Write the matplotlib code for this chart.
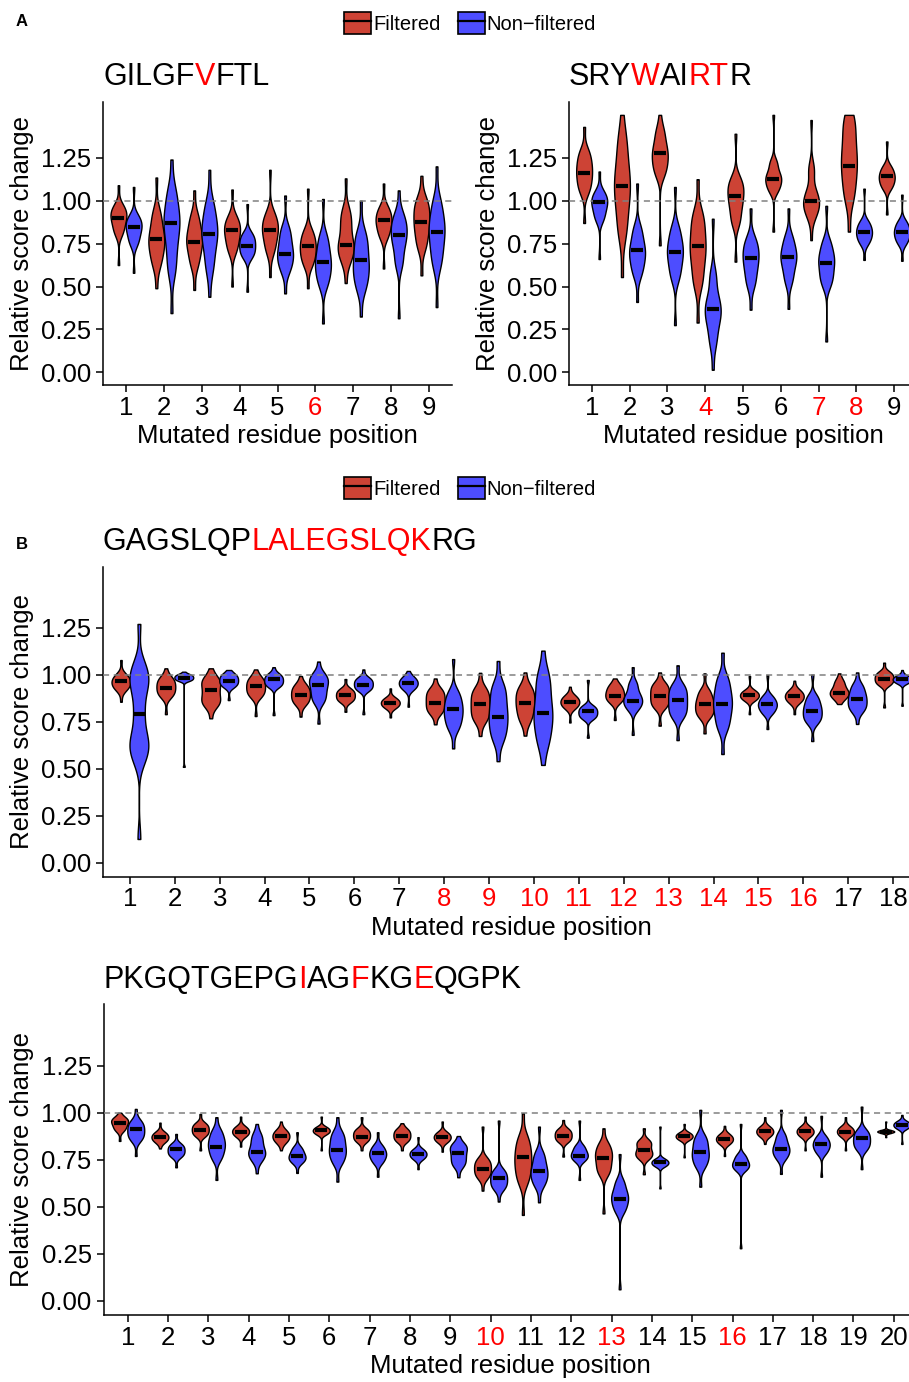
import numpy as np
import matplotlib
matplotlib.use("Agg")
import matplotlib.pyplot as plt
from matplotlib.patches import Patch
from matplotlib.lines import Line2D

plt.rcParams['font.family'] = ['Liberation Sans', 'DejaVu Sans']

W, H = 909, 1382
RED = '#CD4335'
BLUE = '#4D4DFF'
HL = '#FF0000'

# each violin: [min, body points..., max]; medians drawn as black bars
# ---- panel A left: GILGFVFTL
a1_peptide = "GILGFVFTL"
a1_hl = [6]
a1_filt = [
    [0.625, 0.82, 0.88, 0.92, 0.96, 1.09],
    [0.49, 0.64, 0.72, 0.77, 0.83, 0.92, 1.135],
    [0.48, 0.64, 0.72, 0.77, 0.82, 0.90, 1.06],
    [0.50, 0.72, 0.79, 0.84, 0.89, 1.065],
    [0.555, 0.72, 0.80, 0.85, 0.91, 1.18],
    [0.49, 0.64, 0.70, 0.75, 0.81, 1.07],
    [0.52, 0.66, 0.72, 0.76, 0.85, 0.93, 1.13],
    [0.605, 0.80, 0.86, 0.90, 0.95, 1.10],
    [0.565, 0.74, 0.82, 0.88, 0.94, 1.0, 1.145],
]
a1_filt_med = [0.90, 0.775, 0.76, 0.83, 0.83, 0.735, 0.74, 0.89, 0.875]
a1_non = [
    [0.58, 0.76, 0.82, 0.86, 0.90, 1.08],
    [0.345, 0.60, 0.72, 0.82, 0.88, 0.95, 1.05, 1.24],
    [0.44, 0.62, 0.74, 0.81, 0.87, 0.97, 1.18],
    [0.47, 0.68, 0.72, 0.76, 0.80, 0.98],
    [0.46, 0.60, 0.66, 0.70, 0.76, 0.83, 1.03],
    [0.285, 0.52, 0.59, 0.64, 0.70, 0.78, 1.01],
    [0.325, 0.50, 0.58, 0.64, 0.72, 0.80, 1.0],
    [0.315, 0.64, 0.74, 0.80, 0.85, 0.91, 1.06],
    [0.38, 0.64, 0.74, 0.82, 0.88, 0.98, 1.20],
]
a1_non_med = [0.845, 0.87, 0.805, 0.735, 0.69, 0.64, 0.655, 0.80, 0.815]

# ---- panel A right: SRYWAIRTR
a2_peptide = "SRYWAIRTR"
a2_hl = [4, 7, 8]
a2_filt = [
    [0.87, 1.06, 1.12, 1.17, 1.22, 1.28, 1.43],
    [0.555, 0.82, 0.95, 1.05, 1.12, 1.22, 1.35, 1.5],
    [0.74, 1.16, 1.22, 1.27, 1.32, 1.40, 1.5],
    [0.29, 0.52, 0.62, 0.70, 0.76, 0.84, 0.92, 1.125],
    [0.645, 0.88, 0.96, 1.02, 1.07, 1.12, 1.39],
    [0.82, 1.06, 1.10, 1.13, 1.16, 1.22, 1.5],
    [0.77, 0.92, 0.97, 1.0, 1.05, 1.18, 1.47],
    [0.82, 1.02, 1.12, 1.20, 1.27, 1.36, 1.46, 1.5],
    [0.92, 1.08, 1.12, 1.15, 1.19, 1.345],
]
a2_filt_med = [1.16, 1.087, 1.28, 0.737, 1.03, 1.128, 0.998, 1.205, 1.143]
a2_non = [
    [0.66, 0.90, 0.96, 1.0, 1.04, 1.17],
    [0.41, 0.58, 0.65, 0.70, 0.75, 0.83, 1.10],
    [0.275, 0.56, 0.64, 0.70, 0.75, 0.83, 1.08],
    [0.015, 0.18, 0.28, 0.34, 0.38, 0.44, 0.56, 0.895],
    [0.365, 0.52, 0.60, 0.66, 0.71, 0.77, 0.955],
    [0.37, 0.54, 0.62, 0.67, 0.71, 0.78, 0.955],
    [0.18, 0.52, 0.58, 0.64, 0.68, 0.75, 0.97],
    [0.655, 0.76, 0.80, 0.83, 0.87, 1.07],
    [0.65, 0.76, 0.80, 0.83, 0.87, 1.035],
]
a2_non_med = [0.99, 0.712, 0.70, 0.37, 0.665, 0.673, 0.638, 0.82, 0.815]

# ---- panel B: GAGSLQPLALEGSLQKRG
b_peptide = "GAGSLQPLALEGSLQKRG"
b_hl = [8, 9, 10, 11, 12, 13, 14, 15, 16]
b_filt = [
    [0.856, 0.93, 0.96, 0.99, 1.078],
    [0.79, 0.89, 0.92, 0.95, 0.98, 1.034],
    [0.768, 0.84, 0.87, 0.91, 0.95, 0.98, 1.034],
    [0.78, 0.89, 0.92, 0.95, 0.98, 1.028],
    [0.777, 0.85, 0.88, 0.91, 0.94, 0.993],
    [0.803, 0.86, 0.88, 0.90, 0.92, 0.977],
    [0.773, 0.83, 0.85, 0.87, 0.927],
    [0.736, 0.80, 0.83, 0.86, 0.89, 0.92, 0.98],
    [0.674, 0.76, 0.80, 0.84, 0.88, 0.92, 1.01],
    [0.676, 0.76, 0.81, 0.85, 0.89, 0.93, 1.012],
    [0.746, 0.83, 0.855, 0.88, 0.936],
    [0.759, 0.86, 0.885, 0.91, 0.94, 0.98],
    [0.729, 0.83, 0.86, 0.89, 0.92, 0.95, 1.012],
    [0.688, 0.78, 0.81, 0.84, 0.87, 0.91, 1.007],
    [0.79, 0.87, 0.89, 0.91, 0.993],
    [0.79, 0.86, 0.885, 0.91, 0.968],
    [0.844, 0.88, 0.90, 0.92, 0.96, 1.007],
    [0.826, 0.95, 0.97, 0.99, 1.01, 1.064],
]
b_filt_med = [0.966, 0.929, 0.918, 0.94, 0.894, 0.894, 0.851, 0.851, 0.844,
              0.851, 0.856, 0.887, 0.888, 0.842, 0.892, 0.888, 0.904, 0.977]
b_non = [
    [0.126, 0.56, 0.62, 0.68, 0.80, 0.92, 0.98, 1.04, 1.27],
    [0.51, 0.97, 0.98, 0.99, 1.0, 1.016],
    [0.865, 0.94, 0.96, 0.98, 1.0, 1.025],
    [0.785, 0.94, 0.96, 0.98, 1.0, 1.04],
    [0.74, 0.86, 0.90, 0.94, 0.97, 1.0, 1.07],
    [0.79, 0.92, 0.94, 0.96, 0.98, 1.028],
    [0.83, 0.93, 0.955, 0.98, 1.02],
    [0.608, 0.72, 0.77, 0.81, 0.85, 0.90, 1.083],
    [0.54, 0.66, 0.72, 0.77, 0.82, 0.88, 0.94, 1.073],
    [0.52, 0.64, 0.72, 0.78, 0.84, 0.92, 1.0, 1.128],
    [0.665, 0.77, 0.79, 0.81, 0.83, 0.972],
    [0.68, 0.82, 0.85, 0.87, 0.90, 0.95, 1.04],
    [0.652, 0.78, 0.82, 0.86, 0.90, 0.94, 1.05],
    [0.578, 0.72, 0.78, 0.83, 0.87, 0.92, 0.98, 1.117],
    [0.711, 0.80, 0.83, 0.85, 0.88, 0.998],
    [0.647, 0.75, 0.78, 0.81, 0.84, 0.88, 1.0],
    [0.738, 0.81, 0.84, 0.87, 0.90, 0.94, 1.012],
    [0.835, 0.96, 0.975, 0.99, 1.025],
]
b_non_med = [0.79, 0.984, 0.966, 0.975, 0.947, 0.947, 0.957, 0.817, 0.777,
             0.794, 0.805, 0.86, 0.867, 0.842, 0.842, 0.805, 0.872, 0.975]

# ---- panel C: PKGQTGEPGIAGFKGEQGPK
c_peptide = "PKGQTGEPGIAGFKGEQGPK"
c_hl = [10, 13, 16]
c_filt = [
    [0.85, 0.91, 0.935, 0.955, 0.97, 1.0],
    [0.81, 0.85, 0.87, 0.89, 0.947],
    [0.80, 0.88, 0.90, 0.92, 0.94, 0.993],
    [0.82, 0.88, 0.90, 0.92, 0.979],
    [0.80, 0.85, 0.875, 0.90, 0.953],
    [0.80, 0.89, 0.905, 0.92, 0.979],
    [0.80, 0.85, 0.87, 0.89, 0.91, 0.976],
    [0.80, 0.85, 0.87, 0.89, 0.91, 0.944],
    [0.793, 0.85, 0.87, 0.89, 0.953],
    [0.586, 0.66, 0.69, 0.72, 0.75, 0.926],
    [0.457, 0.64, 0.70, 0.75, 0.80, 0.86, 0.997],
    [0.767, 0.85, 0.87, 0.89, 0.91, 0.961],
    [0.465, 0.68, 0.72, 0.76, 0.79, 0.83, 0.917],
    [0.673, 0.76, 0.78, 0.80, 0.83, 0.85, 0.917],
    [0.763, 0.86, 0.875, 0.89, 0.94],
    [0.77, 0.84, 0.86, 0.88, 0.93],
    [0.834, 0.88, 0.90, 0.92, 0.976],
    [0.80, 0.88, 0.90, 0.92, 0.979],
    [0.80, 0.88, 0.90, 0.92, 0.976],
    [0.87, 0.895, 0.90, 0.905, 0.953],
]
c_filt_med = [0.944, 0.871, 0.908, 0.898, 0.878, 0.908, 0.873, 0.876, 0.87, 0.703,
              0.767, 0.876, 0.76, 0.80, 0.878, 0.86, 0.903, 0.905, 0.90, 0.898]
c_non = [
    [0.77, 0.86, 0.89, 0.92, 0.95, 1.02],
    [0.71, 0.77, 0.79, 0.81, 0.83, 0.887],
    [0.643, 0.76, 0.80, 0.83, 0.86, 0.90, 0.976],
    [0.678, 0.75, 0.78, 0.80, 0.84, 0.88, 0.94],
    [0.68, 0.74, 0.76, 0.78, 0.81, 0.896],
    [0.634, 0.74, 0.78, 0.81, 0.85, 0.89, 0.976],
    [0.66, 0.74, 0.77, 0.79, 0.82, 0.896],
    [0.70, 0.76, 0.78, 0.80, 0.87],
    [0.657, 0.72, 0.75, 0.78, 0.81, 0.83, 0.876],
    [0.528, 0.60, 0.63, 0.66, 0.69, 0.958],
    [0.524, 0.62, 0.66, 0.69, 0.73, 0.78, 0.926],
    [0.643, 0.75, 0.77, 0.79, 0.82, 0.958],
    [0.062, 0.48, 0.52, 0.55, 0.58, 0.63, 0.78],
    [0.598, 0.72, 0.735, 0.75, 0.926],
    [0.607, 0.72, 0.76, 0.79, 0.83, 0.87, 1.015],
    [0.28, 0.70, 0.72, 0.74, 0.77, 0.94],
    [0.675, 0.76, 0.79, 0.81, 0.84, 0.88, 1.015],
    [0.66, 0.79, 0.82, 0.84, 0.87, 0.983],
    [0.70, 0.81, 0.84, 0.87, 0.90, 1.032],
    [0.834, 0.92, 0.935, 0.95, 0.988],
]
c_non_med = [0.914, 0.809, 0.82, 0.79, 0.77, 0.80, 0.784, 0.78, 0.784, 0.652,
             0.689, 0.77, 0.543, 0.737, 0.791, 0.73, 0.806, 0.834, 0.864, 0.935]


def kde_stats(values):
    """Trimmed kernel density for one violin (ends at min/max)."""
    v = np.asarray(values, dtype=float)
    lo, hi, body = v[0], v[-1], v[1:-1]
    h = max(0.85 * np.diff(body).mean(), 0.006) if len(body) > 1 else 0.01
    coords = np.linspace(lo, hi, 300)
    dens = np.zeros_like(coords)
    for p in body:
        dens += np.exp(-0.5 * ((coords - p) / h) ** 2) / len(body)
    for p in (lo, hi):
        dens += 0.05 * np.exp(-0.5 * ((coords - p) / h) ** 2)
    return dict(coords=coords, vals=dens, mean=v.mean(), median=np.median(v),
                min=lo, max=hi)


def add_axes_px(fig, left, top, right, bottom):
    return fig.add_axes([left / W, 1 - bottom / H, (right - left) / W, (bottom - top) / H])


def colored_title(ax, peptide, hl):
    # group consecutive characters of the same colour
    runs = []
    for i, ch in enumerate(peptide, start=1):
        col = HL if i in hl else 'black'
        if runs and runs[-1][1] == col:
            runs[-1][0] += ch
        else:
            runs.append([ch, col])
    prev = None
    for txt, col in runs:
        if prev is None:
            prev = ax.annotate(txt, xy=(0, 1), xycoords='axes fraction', xytext=(0, 7),
                               textcoords='offset points', ha='left', va='bottom',
                               fontsize=22, color=col)
        else:
            prev = ax.annotate(txt, xy=(1, 0), xycoords=prev, ha='left', va='bottom',
                               fontsize=22, color=col)


def draw_panel(ax, n, peptide, hl, filt, filt_med, non, non_med):
    pos = np.arange(1, n + 1)
    for vals, med, off, col in [(filt, filt_med, -0.2, RED), (non, non_med, 0.2, BLUE)]:
        stats = [kde_stats(v) for v in vals]
        parts = ax.violin(stats, positions=pos + off, widths=0.42, showmeans=False,
                          showextrema=False, showmedians=False)
        for b in parts['bodies']:
            b.set_facecolor(col)
            b.set_edgecolor('black')
            b.set_linewidth(1.0)
            b.set_alpha(1)
            b.set_zorder(2)
        ax.plot(pos + off, med, linestyle='none', marker='_', markersize=8,
                mew=3, color='black', zorder=4)
    ax.axhline(1.0, color='#808080', ls=(0, (4, 3)), lw=1.1, zorder=3)
    ax.set_xlim(0.4, n + 0.6)
    ax.set_ylim(-0.075, 1.575)
    ax.set_xticks(pos)
    ax.set_xticklabels([str(p) for p in pos])
    for lab, p in zip(ax.get_xticklabels(), pos):
        lab.set_color(HL if p in hl else 'black')
    ax.set_yticks([0, 0.25, 0.5, 0.75, 1.0, 1.25])
    ax.set_yticklabels(['0.00', '0.25', '0.50', '0.75', '1.00', '1.25'])
    for s in ['top', 'right']:
        ax.spines[s].set_visible(False)
    for s in ['left', 'bottom']:
        ax.spines[s].set_linewidth(1.1)
    ax.tick_params(axis='both', length=5, width=1.1, labelsize=18.5, color='black')
    ax.tick_params(axis='x', pad=2.5)
    ax.tick_params(axis='y', pad=3.5)
    bb = ax.get_position()
    axw, axh = bb.width * W, bb.height * H
    ax.set_ylabel('Relative score change', fontsize=18.5, va='center')
    ax.yaxis.set_label_coords(-81 / axw, 0.5)
    ax.set_xlabel('Mutated residue position', fontsize=18.5, va='center')
    ax.xaxis.set_label_coords(0.5, -51 / axh)
    colored_title(ax, peptide, hl)


fig = plt.figure(figsize=(W / 100, H / 100), dpi=100)

ax1 = add_axes_px(fig, 103.3, 102, 451.7, 385.2)
draw_panel(ax1, 9, a1_peptide, a1_hl, a1_filt, a1_filt_med, a1_non, a1_non_med)
ax2 = add_axes_px(fig, 569, 102, 917, 385.2)
draw_panel(ax2, 9, a2_peptide, a2_hl, a2_filt, a2_filt_med, a2_non, a2_non_med)
ax3 = add_axes_px(fig, 103, 566.6, 920, 876.8)
draw_panel(ax3, 18, b_peptide, b_hl, b_filt, b_filt_med, b_non, b_non_med)
ax4 = add_axes_px(fig, 103.5, 1004.4, 918, 1315.1)
draw_panel(ax4, 20, c_peptide, c_hl, c_filt, c_filt_med, c_non, c_non_med)

# legends
handles = [(Patch(facecolor=RED, edgecolor='black', linewidth=1.2),
            Line2D([0], [0], color='black', lw=1.6)),
           (Patch(facecolor=BLUE, edgecolor='black', linewidth=1.2),
            Line2D([0], [0], color='black', lw=1.6))]
labels = ['Filtered', 'Non\u2212filtered']
for ycen in (23, 488):
    fig.legend(handles, labels, loc='center', bbox_to_anchor=(470 / W, 1 - ycen / H),
               ncol=2, frameon=False, fontsize=14.5, handlelength=1.35,
               handleheight=1.35, handletextpad=0.1, columnspacing=0.85,
               borderpad=0, borderaxespad=0)

fig.text(22 / W, 1 - 22 / H, 'A', fontsize=12, fontweight='bold', ha='center', va='center')
fig.text(22 / W, 1 - 544 / H, 'B', fontsize=12, fontweight='bold', ha='center', va='center')

fig.savefig('out.png', dpi=100)
